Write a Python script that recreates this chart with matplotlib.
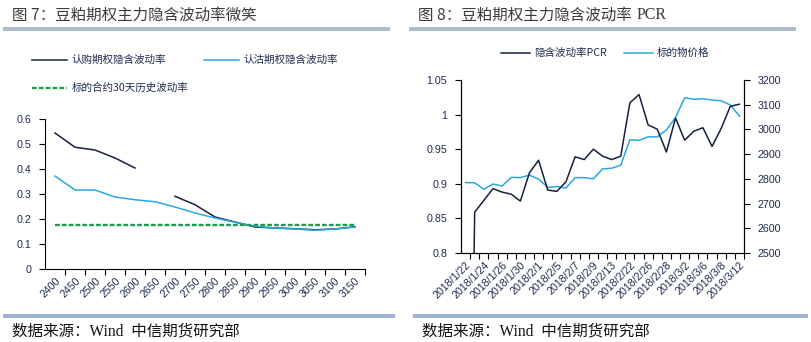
import matplotlib
matplotlib.use('Agg')
import matplotlib.pyplot as plt
from matplotlib.lines import Line2D
from matplotlib.patches import Rectangle
import numpy as np

plt.rcParams['font.family'] = ['Liberation Sans', 'Noto Sans CJK SC', 'DejaVu Sans']

# ---------------- data ----------------
strikes = ['2400', '2450', '2500', '2550', '2600', '2650', '2700', '2750',
           '2800', '2850', '2900', '2950', '3000', '3050', '3100', '3150']
call_iv = [0.544, 0.487, 0.476, 0.444, 0.404, np.nan, 0.291, 0.257,
           0.208, 0.188, 0.168, 0.164, 0.161, 0.157, 0.160, 0.169]
put_iv = [0.372, 0.316, 0.316, 0.288, 0.277, 0.269, 0.248, 0.224,
          0.204, 0.187, 0.171, 0.164, 0.160, 0.155, 0.160, 0.168]
hist_vol = [0.178] * 16

dates = ['2018/1/22', '2018/1/23', '2018/1/24', '2018/1/25', '2018/1/26',
         '2018/1/29', '2018/1/30', '2018/1/31', '2018/2/1', '2018/2/2',
         '2018/2/5', '2018/2/6', '2018/2/7', '2018/2/8', '2018/2/9',
         '2018/2/12', '2018/2/13', '2018/2/14', '2018/2/22', '2018/2/23',
         '2018/2/26', '2018/2/27', '2018/2/28', '2018/3/1', '2018/3/2',
         '2018/3/5', '2018/3/6', '2018/3/7', '2018/3/8', '2018/3/9',
         '2018/3/12']
pcr = [0.0, 0.859, 0.876, 0.893, 0.888, 0.885, 0.875, 0.916, 0.934, 0.891,
       0.889, 0.903, 0.939, 0.935, 0.950, 0.940, 0.935, 0.940, 1.017, 1.029,
       0.985, 0.979, 0.946, 0.995, 0.963, 0.976, 0.981, 0.954, 0.980, 1.012,
       1.015]
price = [2785, 2784, 2758, 2779, 2771, 2806, 2805, 2815, 2799, 2766,
         2769, 2763, 2805, 2805, 2800, 2840, 2843, 2855, 2958, 2956,
         2970, 2970, 2998, 3048, 3128, 3122, 3124, 3119, 3116, 3099,
         3054]

# ---------------- styles ----------------
NAVY = '#14213F'
LBLUE = '#2AA8DE'
GREEN = '#1A9E4B'
TXT = '#1F2B4D'
TITLE = '#3C3C3C'
BAR_TOP = '#AEBBC9'
BAR_BOT = '#9FB4D0'

W, H = 812, 342
fig = plt.figure(figsize=(W / 100, H / 100), dpi=100)


def fx(px):
    return px / W


def fy(py):
    return 1 - py / H


def hbar(x0, x1, y, h, color):
    fig.add_artist(Rectangle((fx(x0), fy(y + h / 2)), fx(x1) - fx(x0), h / H,
                             transform=fig.transFigure, color=color, lw=0))


# titles, bars, footers
CJK = ['Noto Sans CJK SC', 'DejaVu Sans']
fig.text(fx(12), fy(15), '图 7：豆粕期权主力隐含波动率微笑', fontsize=11.2,
         color=TITLE, va='center', ha='left', family=CJK)
t8 = fig.text(fx(418), fy(15), '图 8：豆粕期权主力隐含波动率', fontsize=11.2,
              color=TITLE, va='center', ha='left', family=CJK)
renderer = fig.canvas.get_renderer()
bb = t8.get_window_extent(renderer=renderer)
fig.text(bb.x1 / W + fx(5), fy(15), 'PCR', fontsize=11.5, color=TITLE,
         va='center', ha='left', family=['Liberation Serif'])
hbar(3, 390, 29, 4, BAR_TOP)
hbar(409, 796, 29, 4, BAR_TOP)
hbar(3, 395, 316, 4, BAR_BOT)
hbar(413, 808, 316, 4, BAR_BOT)
for x0 in (12, 422):
    fig.text(fx(x0), fy(331), '数据来源：Wind  中信期货研究部', fontsize=11.2,
             color='#111111', va='center', ha='left',
             family=['Liberation Serif', 'Noto Sans CJK SC'])


def style_cat_axis(ax, labels, idx_labels):
    n = len(labels)
    ax.set_xlim(-0.5, n - 0.5)
    ax.set_xticks(np.arange(0.5, n, 1.0))
    ax.set_xticklabels([])
    ax.set_xticks(idx_labels, minor=True)
    ax.set_xticklabels([labels[i] for i in idx_labels], minor=True,
                       rotation=45, ha='right', va='top',
                       rotation_mode='anchor', color=TXT, fontsize=7.7)
    ax.tick_params(axis='x', which='major', direction='out', length=4,
                   width=0.8, color='black')
    ax.tick_params(axis='x', which='minor', length=0, pad=5)


# ---------------- left chart ----------------
ax1 = fig.add_axes([fx(45), fy(269), (365 - 45) / W, (269 - 119) / H])
x1 = np.arange(len(strikes))
ax1.plot(x1, call_iv, color=NAVY, lw=1.1)
ax1.plot(x1, put_iv, color=LBLUE, lw=1.1)
ax1.plot(x1, hist_vol, color=GREEN, lw=1.7, dashes=(2.0, 0.9))
ax1.set_ylim(0, 0.6)
ax1.set_yticks(np.arange(0, 0.61, 0.1))
ax1.set_yticklabels(['0', '0.1', '0.2', '0.3', '0.4', '0.5', '0.6'])
ax1.tick_params(axis='y', direction='out', length=4, width=0.8,
                labelcolor=TXT, labelsize=7.7, pad=6)
style_cat_axis(ax1, strikes, list(range(len(strikes))))
for s in ('top', 'right'):
    ax1.spines[s].set_visible(False)
for s in ('left', 'bottom'):
    ax1.spines[s].set_linewidth(0.8)

# left legend (manual)
leg1 = [(32, 60, NAVY, None, '认购期权隐含波动率'),
        (204, 60, LBLUE, None, '认沽期权隐含波动率'),
        (32, 88, GREEN, (2.0, 0.9), '标的合约30天历史波动率')]
for lx, ly, c, d, t in leg1:
    ln = Line2D([fx(lx), fx(lx + 35)], [fy(ly), fy(ly)], color=c,
                lw=1.7 if d else 1.1, transform=fig.transFigure)
    if d:
        ln.set_dashes(d)
    fig.add_artist(ln)
    fig.text(fx(lx + 40), fy(ly), t, fontsize=7.6, color=TXT, va='center',
             ha='left', family=CJK)

# ---------------- right chart ----------------
ax2 = fig.add_axes([fx(461), fy(253), (744 - 461) / W, (253 - 80) / H])
x2 = np.arange(len(dates))
ax2.plot(x2, pcr, color=NAVY, lw=1.1, zorder=3)
ax2.set_ylim(0.8, 1.05)
ax2.set_yticks([0.8, 0.85, 0.9, 0.95, 1.0, 1.05])
ax2.set_yticklabels(['0.8', '0.85', '0.9', '0.95', '1', '1.05'])
ax2.tick_params(axis='y', direction='out', length=4, width=0.8,
                labelcolor=TXT, labelsize=7.7, pad=6)
style_cat_axis(ax2, dates, list(range(0, len(dates), 2)))
ax3 = ax2.twinx()
ax3.plot(x2, price, color=LBLUE, lw=1.1, zorder=2)
ax3.set_ylim(2500, 3200)
ax3.set_yticks(np.arange(2500, 3201, 100))
ax3.tick_params(axis='y', direction='out', length=4, width=0.8,
                labelcolor=TXT, labelsize=7.7, pad=6)
ax2.set_zorder(ax3.get_zorder() + 1)
ax2.patch.set_visible(False)
for a in (ax2, ax3):
    a.spines['top'].set_visible(False)
    for s in ('left', 'right', 'bottom'):
        a.spines[s].set_linewidth(0.8)

leg2 = [(501, 53, NAVY, '隐含波动率PCR'), (624, 53, LBLUE, '标的物价格')]
for lx, ly, c, t in leg2:
    fig.add_artist(Line2D([fx(lx), fx(lx + 29)], [fy(ly), fy(ly)], color=c,
                          lw=1.1, transform=fig.transFigure))
    fig.text(fx(lx + 33), fy(ly), t, fontsize=7.6, color=TXT, va='center',
             ha='left', family=CJK)

fig.savefig('out.png', dpi=100)
